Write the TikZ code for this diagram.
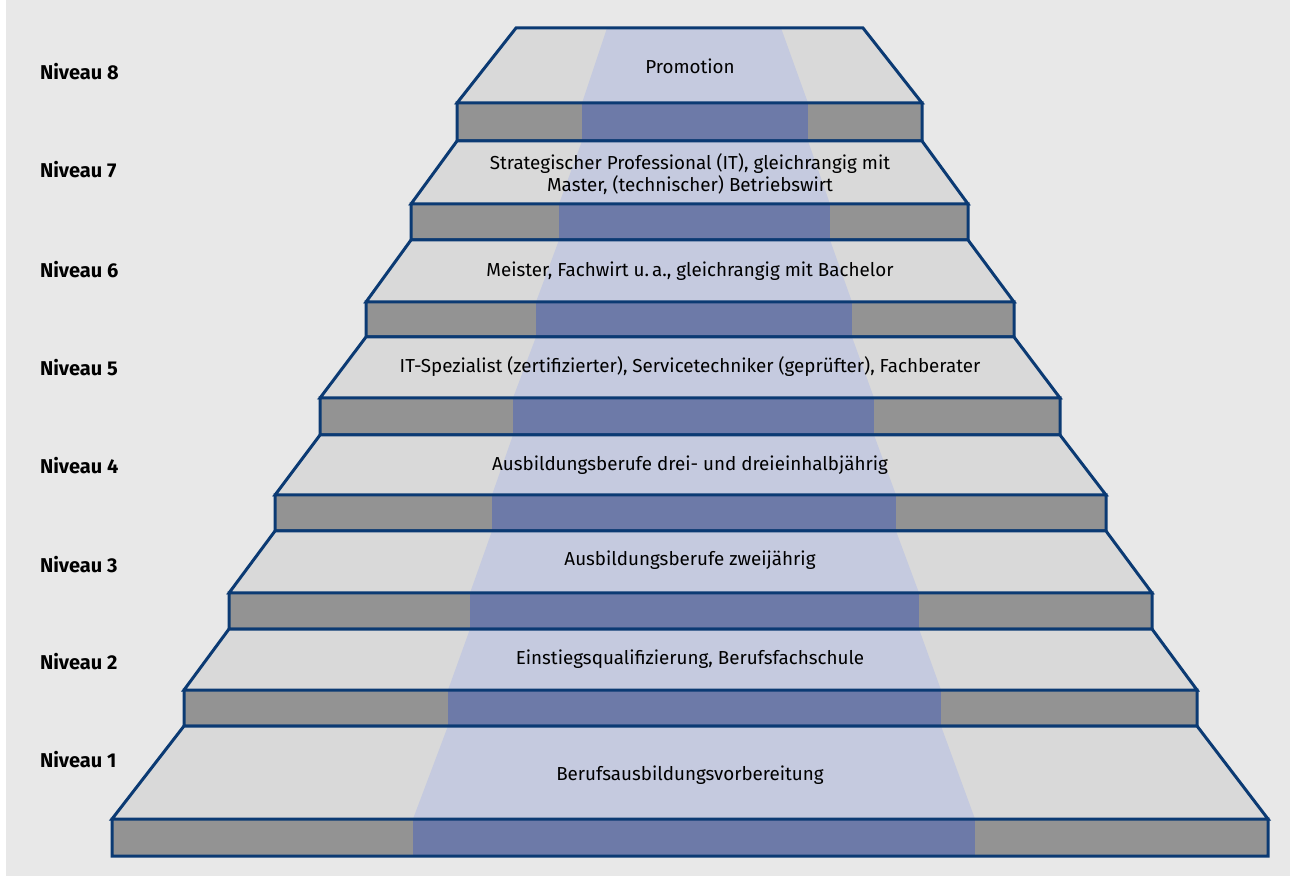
\documentclass[tikz,border=0pt]{standalone}
\usepackage{fontspec}
\setmainfont{Fira Sans}
\usepackage{tikz}
\usetikzlibrary{positioning}
\definecolor{hintergrund}{HTML}{E8E8E8}
\definecolor{oben}{HTML}{D9D9D9}
\definecolor{stirn}{HTML}{939393}
\definecolor{bandhell}{HTML}{C5CADF}
\definecolor{banddunkel}{HTML}{6D7AA8}
\definecolor{navy}{HTML}{0B3A73}
\tikzset{
    obenflaeche/.style = {fill=oben},
    stirnflaeche/.style = {fill=stirn},
    bandoben/.style = {fill=bandhell},
    bandstirn/.style = {fill=banddunkel},
    kante/.style = {draw=navy, line width=1.5pt, line join=miter},
    niveau/.style = {anchor=west, font=\bfseries\fontsize{10}{12}\selectfont},
    beschr/.style = {align=center, font=\fontsize{9.4}{11.3}\selectfont, inner sep=0pt}
}

\begin{document}
\begin{tikzpicture}[x=0.5pt, y=-0.5pt]
  \useasboundingbox (0,0) rectangle (1290,876);
  \fill[hintergrund] (6,0) rectangle (1290,876);

% Niveau 8
\fill[obenflaeche] (516,28) -- (863,28) -- (922,103) -- (457,103) -- cycle;
\fill[bandoben] (607,28) -- (781,28) -- (808,103) -- (582,103) -- cycle;
\fill[stirnflaeche] (457,103) rectangle (922,141);
\fill[bandstirn] (582,103) rectangle (808,141);
\draw[kante] (516,28) -- (863,28) -- (922,103) -- (457,103) -- cycle (457,103) rectangle (922,141);

% Niveau 7
\fill[obenflaeche] (457,141) -- (922,141) -- (968,204) -- (411,204) -- cycle;
\fill[bandoben] (582,141) -- (808,141) -- (830,204) -- (559,204) -- cycle;
\fill[stirnflaeche] (411,204) rectangle (968,240);
\fill[bandstirn] (559,204) rectangle (830,240);
\draw[kante] (457,141) -- (922,141) -- (968,204) -- (411,204) -- cycle (411,204) rectangle (968,240);

% Niveau 6
\fill[obenflaeche] (411,240) -- (968,240) -- (1014,302) -- (366,302) -- cycle;
\fill[bandoben] (559,240) -- (830,240) -- (852,302) -- (536,302) -- cycle;
\fill[stirnflaeche] (366,302) rectangle (1014,337);
\fill[bandstirn] (536,302) rectangle (852,337);
\draw[kante] (411,240) -- (968,240) -- (1014,302) -- (366,302) -- cycle (366,302) rectangle (1014,337);

% Niveau 5
\fill[obenflaeche] (366,337) -- (1014,337) -- (1060,398) -- (320,398) -- cycle;
\fill[bandoben] (536,337) -- (852,337) -- (874,398) -- (513,398) -- cycle;
\fill[stirnflaeche] (320,398) rectangle (1060,435);
\fill[bandstirn] (513,398) rectangle (874,435);
\draw[kante] (366,337) -- (1014,337) -- (1060,398) -- (320,398) -- cycle (320,398) rectangle (1060,435);

% Niveau 4
\fill[obenflaeche] (320,435) -- (1060,435) -- (1106,495) -- (275,495) -- cycle;
\fill[bandoben] (513,435) -- (874,435) -- (896,495) -- (492,495) -- cycle;
\fill[stirnflaeche] (275,495) rectangle (1106,531);
\fill[bandstirn] (492,495) rectangle (896,531);
\draw[kante] (320,435) -- (1060,435) -- (1106,495) -- (275,495) -- cycle (275,495) rectangle (1106,531);

% Niveau 3
\fill[obenflaeche] (275,531) -- (1106,531) -- (1152,593) -- (229,593) -- cycle;
\fill[bandoben] (492,531) -- (896,531) -- (919,593) -- (470,593) -- cycle;
\fill[stirnflaeche] (229,593) rectangle (1152,629);
\fill[bandstirn] (470,593) rectangle (919,629);
\draw[kante] (275,531) -- (1106,531) -- (1152,593) -- (229,593) -- cycle (229,593) rectangle (1152,629);

% Niveau 2
\fill[obenflaeche] (229,629) -- (1152,629) -- (1197,690) -- (184,690) -- cycle;
\fill[bandoben] (470,629) -- (919,629) -- (941,690) -- (448,690) -- cycle;
\fill[stirnflaeche] (184,690) rectangle (1197,726);
\fill[bandstirn] (448,690) rectangle (941,726);
\draw[kante] (229,629) -- (1152,629) -- (1197,690) -- (184,690) -- cycle (184,690) rectangle (1197,726);

% Niveau 1
\fill[obenflaeche] (184,726) -- (1197,726) -- (1268,819) -- (112,819) -- cycle;
\fill[bandoben] (448,726) -- (941,726) -- (975,819) -- (413,819) -- cycle;
\fill[stirnflaeche] (112,819) rectangle (1268,856);
\fill[bandstirn] (413,819) rectangle (975,856);
\draw[kante] (184,726) -- (1197,726) -- (1268,819) -- (112,819) -- cycle (112,819) rectangle (1268,856);

% Beschriftung
\node[beschr] (t8) at (690,66) {Promotion};
\node[beschr] (t7) at (690,174) {Strategischer Professional (IT), gleichrangig mit\\Master, (technischer) Betriebswirt};
\node[beschr] (t6) at (690,271) {Meister, Fachwirt u.\,a., gleichrangig mit Bachelor};
\node[beschr] (t5) at (690,367) {IT-Spezialist (zertifizierter), Servicetechniker (geprüfter), Fachberater};
\node[beschr] (t4) at (690,465) {Ausbildungsberufe drei- und dreieinhalbjährig};
\node[beschr] (t3) at (690,560) {Ausbildungsberufe zweijährig};
\node[beschr] (t2) at (690,659) {Einstiegsqualifizierung, Berufsfachschule};
\node[beschr] (t1) at (690,775) {Berufsausbildungsvorbereitung};

\node[niveau] (n8) at (33,72) {Niveau 8};
\node[niveau] (n7) at (33,170) {Niveau 7};
\node[niveau] (n6) at (33,270) {Niveau 6};
\node[niveau] (n5) at (33,368) {Niveau 5};
\node[niveau] (n4) at (33,466) {Niveau 4};
\node[niveau] (n3) at (33,565) {Niveau 3};
\node[niveau] (n2) at (33,662) {Niveau 2};
\node[niveau] (n1) at (33,760) {Niveau 1};

 \end{tikzpicture}
\end{document}
